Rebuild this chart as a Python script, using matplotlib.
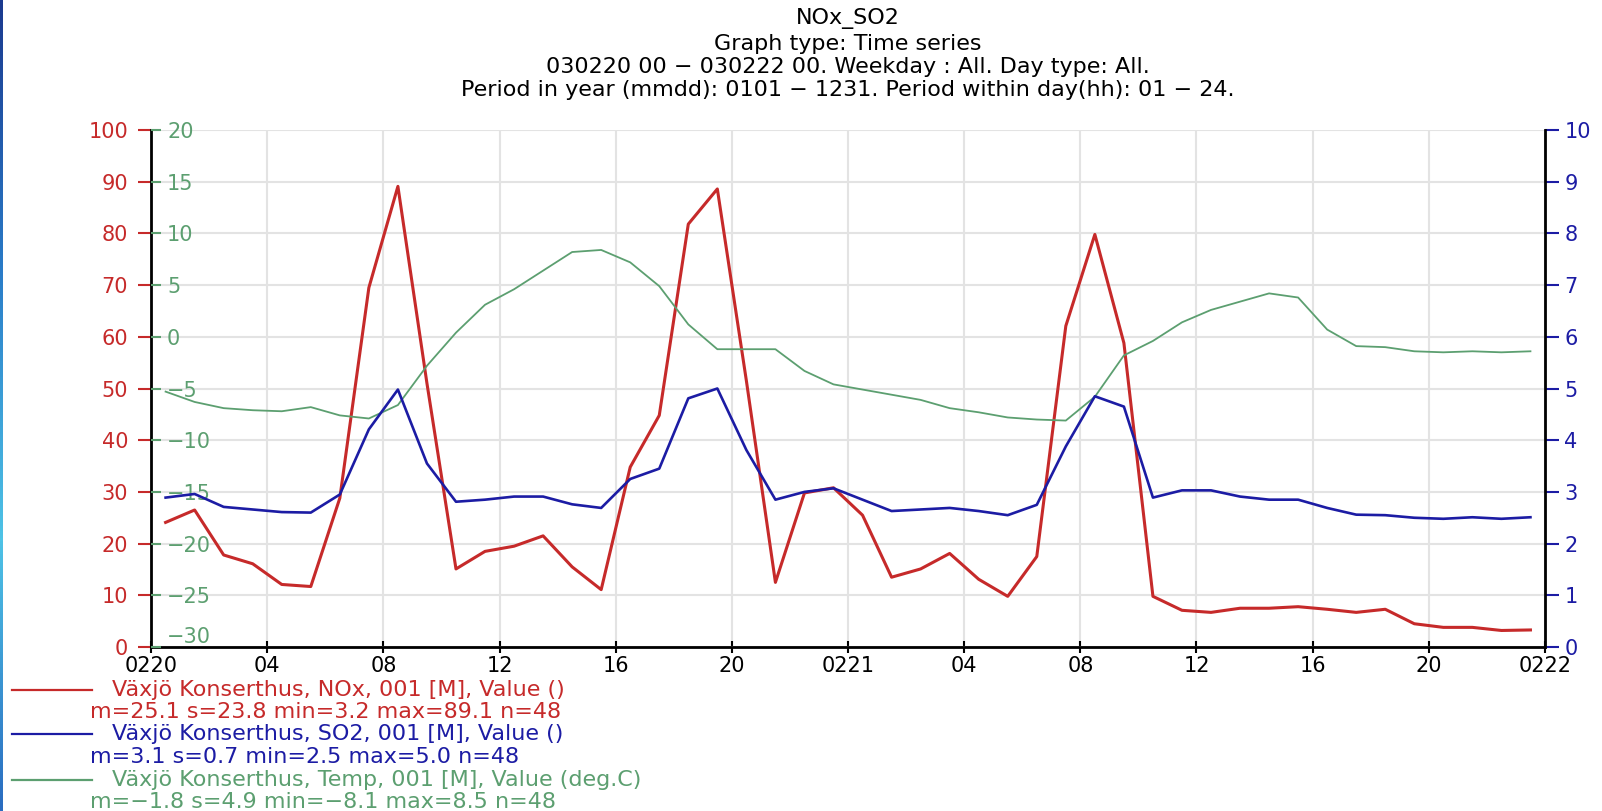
import numpy as np
import matplotlib
matplotlib.use('Agg')
import matplotlib.pyplot as plt
from matplotlib.lines import Line2D
from matplotlib.colors import LinearSegmentedColormap

# hourly values, 030220 01 .. 030222 00 (plotted at the middle of each hour)
hours = [i + 0.5 for i in range(48)]

nox = [24.1, 26.5, 17.8, 16.1, 12.1, 11.7, 28.8, 69.5, 89.1, 51.0, 15.1, 18.5,
       19.5, 21.5, 15.5, 11.1, 34.8, 44.8, 81.8, 88.6, 51.5, 12.5, 29.8, 30.8,
       25.5, 13.5, 15.1, 18.1, 13.1, 9.8, 17.5, 62.1, 79.8, 58.8, 9.8, 7.1,
       6.7, 7.5, 7.5, 7.8, 7.3, 6.7, 7.3, 4.5, 3.8, 3.8, 3.2, 3.3]

so2 = [2.89, 2.96, 2.71, 2.66, 2.61, 2.60, 2.95, 4.21, 4.98, 3.55, 2.81, 2.85,
       2.91, 2.91, 2.76, 2.69, 3.25, 3.45, 4.81, 5.0, 3.81, 2.85, 3.0, 3.07,
       2.85, 2.63, 2.66, 2.69, 2.63, 2.55, 2.75, 3.88, 4.85, 4.65, 2.89, 3.03,
       3.03, 2.91, 2.85, 2.85, 2.69, 2.56, 2.55, 2.5, 2.48, 2.51, 2.48, 2.51]

temp = [-5.3, -6.3, -6.9, -7.1, -7.2, -6.8, -7.6, -7.9, -6.6, -2.8, 0.4, 3.1,
        4.6, 6.4, 8.2, 8.4, 7.2, 4.9, 1.2, -1.2, -1.2, -1.2, -3.3, -4.6,
        -5.1, -5.6, -6.1, -6.9, -7.3, -7.8, -8.0, -8.1, -5.8, -1.8, -0.4, 1.4,
        2.6, 3.4, 4.2, 3.8, 0.7, -0.9, -1.0, -1.4, -1.5, -1.4, -1.5, -1.4]

x_ticks = list(range(0, 49, 4))
x_labels = ['0220', '04', '08', '12', '16', '20', '0221',
            '04', '08', '12', '16', '20', '0222']

title_lines = ['NOx_SO2',
               'Graph type: Time series',
               '030220 00 \u2212 030222 00. Weekday : All. Day type: All.',
               'Period in year (mmdd): 0101 \u2212 1231. Period within day(hh): 01 \u2212 24.']

series_names = ['V\u00e4xj\u00f6 Konserthus, NOx, 001 [M], Value ()',
                'V\u00e4xj\u00f6 Konserthus, SO2, 001 [M], Value ()',
                'V\u00e4xj\u00f6 Konserthus, Temp, 001 [M], Value (deg.C)']
series_stats = ['m=25.1 s=23.8 min=3.2 max=89.1 n=48',
                'm=3.1 s=0.7 min=2.5 max=5.0 n=48',
                'm=\u22121.8 s=4.9 min=\u22128.1 max=8.5 n=48']

RED = '#c62a2a'
BLUE = '#1c1ca4'
GREEN = '#5c9f70'
FS = 16      # title and legend text
TFS = 15     # tick labels

fig = plt.figure(figsize=(16.02, 8.11), dpi=100)
fig.patch.set_facecolor('white')

# thin blue strip on the left edge (slide background)
strip = fig.add_axes([0, 0, 3 / 1602, 1])
cmap = LinearSegmentedColormap.from_list('strip', ['#1b3a8f', '#2a7cc8', '#4ec3e6', '#2a6cc0'])
strip.imshow(np.linspace(0, 1, 200).reshape(-1, 1), aspect='auto', cmap=cmap)
strip.axis('off')

# main axes (NOx) plus two twins (Temp on the left inside, SO2 on the right)
ax = fig.add_axes([0.0943, 0.2022, 0.8701, 0.6375])
ax_t = ax.twinx()
ax_s = ax.twinx()

ax.plot(hours, nox, color=RED, lw=2.2)
ax_t.plot(hours, temp, color=GREEN, lw=1.3)
ax_s.plot(hours, so2, color=BLUE, lw=1.9)

ax.set_xlim(0, 48)
ax.set_ylim(0, 100)
ax_t.set_ylim(-30, 20)
ax_s.set_ylim(0, 10)

ax.set_xticks(x_ticks)
ax.set_xticklabels(x_labels)
ax.set_yticks(range(0, 101, 10))
ax.grid(True, color='#e3e3e3', lw=1.5)
ax.set_axisbelow(True)

ax.tick_params(axis='x', direction='inout', length=9, width=1.5, color='black',
               labelsize=TFS, pad=2)
ax.tick_params(axis='y', direction='out', length=9.5, width=1.5, color=RED,
               labelcolor=RED, labelsize=TFS, pad=7)

# temperature scale: ticks inside the left spine, labels to the right of it
ax_t.yaxis.tick_left()
ax_t.set_yticks(range(-30, 21, 5))
ax_t.tick_params(axis='y', direction='in', length=7, width=1.5, color=GREEN,
                 labelcolor=GREEN, labelsize=TFS, pad=-11.5)
for lbl in ax_t.get_yticklabels():
    lbl.set_horizontalalignment('left')
ax_t.get_yticklabels()[0].set_verticalalignment('bottom')

ax_s.set_yticks(range(0, 11))
ax_s.tick_params(axis='y', direction='out', length=10, width=1.5, color=BLUE,
                 labelcolor=BLUE, labelsize=TFS, pad=4)

for name in ['top', 'right']:
    ax.spines[name].set_visible(False)
for name in ['left', 'bottom']:
    ax.spines[name].set_linewidth(2)
    ax.spines[name].set_color('black')
for s in ax_t.spines.values():
    s.set_visible(False)
for name in ['top', 'left', 'bottom']:
    ax_s.spines[name].set_visible(False)
ax_s.spines['right'].set_color('black')
ax_s.spines['right'].set_linewidth(2)

# title block
cx = 0.0943 + 0.8701 / 2
for txt, ypx in zip(title_lines, [18.4, 43.9, 67.4, 89.9]):
    fig.text(cx, 1 - ypx / 811, txt, ha='center', va='center', fontsize=FS, color='black')

# legend below the chart
rows = [689.6, 712.0, 733.6, 757.0, 779.5, 802.0]
for k, c in enumerate([RED, BLUE, GREEN]):
    y1 = 1 - rows[2 * k] / 811
    y2 = 1 - rows[2 * k + 1] / 811
    fig.add_artist(Line2D([12 / 1602, 92 / 1602], [y1, y1], transform=fig.transFigure,
                          color=c, lw=1.6))
    fig.text(112 / 1602, y1, series_names[k], ha='left', va='center', fontsize=FS, color=c)
    fig.text(90 / 1602, y2, series_stats[k], ha='left', va='center', fontsize=FS, color=c)

plt.savefig('out.png', dpi=100)
